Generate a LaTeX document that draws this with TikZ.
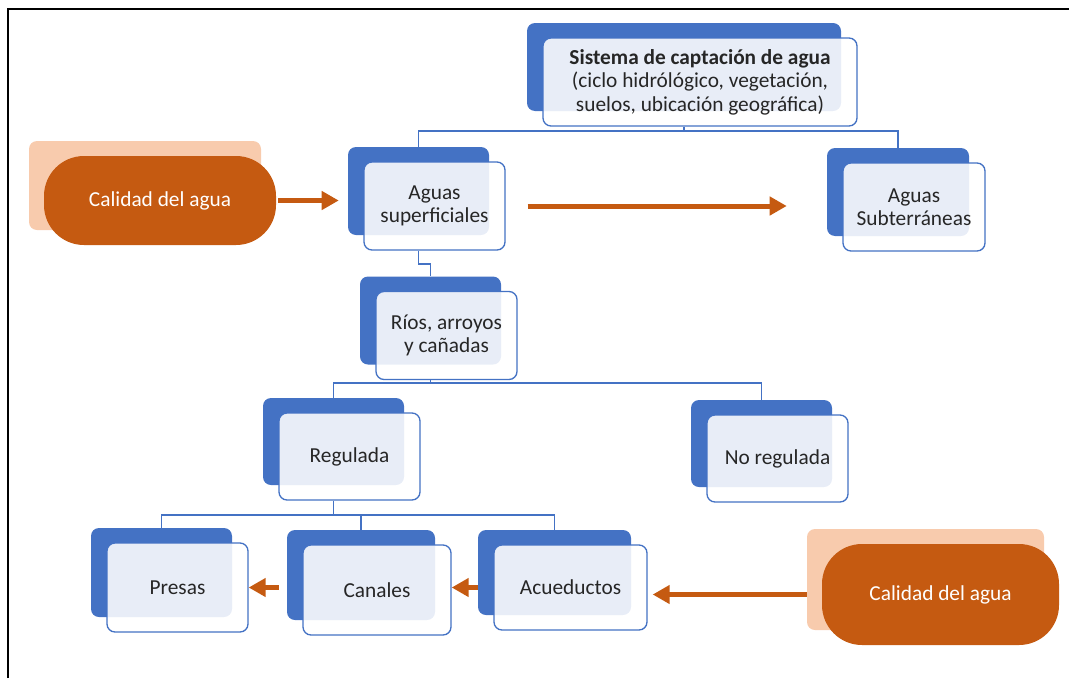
\documentclass[tikz,border=0pt]{standalone}
\usepackage{fontspec}
\setmainfont{Carlito}
\usepackage{tikz}
\usetikzlibrary{arrows.meta}
\definecolor{azulCaja}{HTML}{4472C4}
\definecolor{naranja}{HTML}{C55A11}
\definecolor{durazno}{HTML}{F8CBAD}
\definecolor{textoCaja}{HTML}{262626}

\begin{document}
\begin{tikzpicture}[x=0.75pt,y=-0.75pt]
        % units are pixels of the original sketch
        \newcommand{\pxu}{0.75pt}
        \tikzset{fondo/.style={fill=azulCaja,rounded corners=6pt,inner sep=0pt}}
        \tikzset{frente/.style={draw=azulCaja,line width=1pt,fill=white,fill opacity=0.88,text opacity=1,
            text=textoCaja,rounded corners=6pt,align=center,inner sep=0pt,font=\fontsize{16pt}{17.6pt}\selectfont}}
        \tikzset{pilaFondo/.style={fill=durazno,rounded corners=6pt,inner sep=0pt}}
        \tikzset{pila/.style={fill=naranja,rounded corners=30pt,text=white,inner sep=0pt,
            font=\fontsize{16pt}{17.6pt}\selectfont}}
        \tikzset{rama/.style={draw=azulCaja,line width=1.3pt}}
        \tikzset{flecha/.style={draw=naranja,line width=3.75pt,-{Triangle[length=12.75pt,width=13.5pt]}}}
        \newcommand{\Caja}[6]{% name, x, y, width, height, text
            \node[fondo,minimum width=#4*\pxu,minimum height=#5*\pxu] (#1B) at (#2-16,#3-15) {};
            \node[frente,minimum width=#4*\pxu,minimum height=#5*\pxu] (#1) at (#2,#3) {#6};
        }
        \newcommand{\Pila}[6]{% name, x, y, width, height, text
            \node[pilaFondo,minimum width=#4*\pxu,minimum height=#5*\pxu] (#1B) at (#2-15,#3-15) {};
            \node[pila,minimum width=#4*\pxu,minimum height=#5*\pxu] (#1) at (#2,#3) {#6};
        }

        \useasboundingbox (0,0) rectangle (1069,678);
        \draw[line width=1.5pt] (8,678) -- (8,9) -- (1069,9);

        \Caja{sistema}{700}{82}{314}{88}{\textbf{Sistema de captación de agua}\\(ciclo hidrólógico, vegetación,\\suelos, ubicación geográfica)}
        \Caja{aguas}{434.5}{206}{141}{88}{Aguas\\superficiales}
        \Caja{subt}{914}{207}{142}{88}{Aguas\\Subterráneas}
        \Caja{rios}{446.5}{335.5}{141}{88}{Ríos, arroyos\\y cañadas}
        \Caja{regulada}{349.5}{456.5}{141}{87}{Regulada}
        \Caja{noreg}{777.5}{458.5}{141}{87}{No regulada}
        \Caja{presas}{177.5}{587.5}{141}{89}{Presas}
        \Caja{canales}{377}{590}{148}{90}{Canales}
        \Caja{acued}{570.5}{587.5}{153}{85}{Acueductos}

        \Pila{calidadI}{160}{200.5}{232}{89}{Calidad del agua}
        \Pila{calidadD}{940.5}{594.5}{237}{101}{Calidad del agua}

        % tree
        \draw[rama] (sistemaB |- sistema.south) -- ++(0,4) coordinate (b1) -| (aguasB.north);
        \draw[rama] (b1) -| (subtB.north);
        \draw[rama] (aguasB |- aguas.south) -- ++(0,13) -| (riosB.north);
        \draw[rama] (riosB |- rios.south) -- ++(0,3) coordinate (b2) -| (reguladaB.north);
        \draw[rama] (b2) -| (noregB.north);
        \draw[rama] (reguladaB |- regulada.south) -- ++(0,14) coordinate (b3) -| (presasB.north);
        \draw[rama] (b3) -| (canalesB.north);
        \draw[rama] (b3) -| (acuedB.north);

        % arrows (shorten in pt)
        \draw[flecha,shorten <=1.5pt,shorten >=6.75pt] (calidadI.east) -- (calidadI.east -| aguasB.west);
        \draw[flecha,shorten <=16.5pt,shorten >=30pt] (aguas.east) -- (aguas.east -| subtB.west);
        \draw[flecha,shorten <=6pt] (canalesB.west |- presas.east) -- (presas.east);
        \draw[flecha] (acuedB.west |- acued.east) -- (acued.east -| canales.east);
        \draw[flecha,shorten >=3.75pt] (calidadDB.west |- calidadD.west) -- (calidadD.west -| acued.east);
\end{tikzpicture}
\end{document}
